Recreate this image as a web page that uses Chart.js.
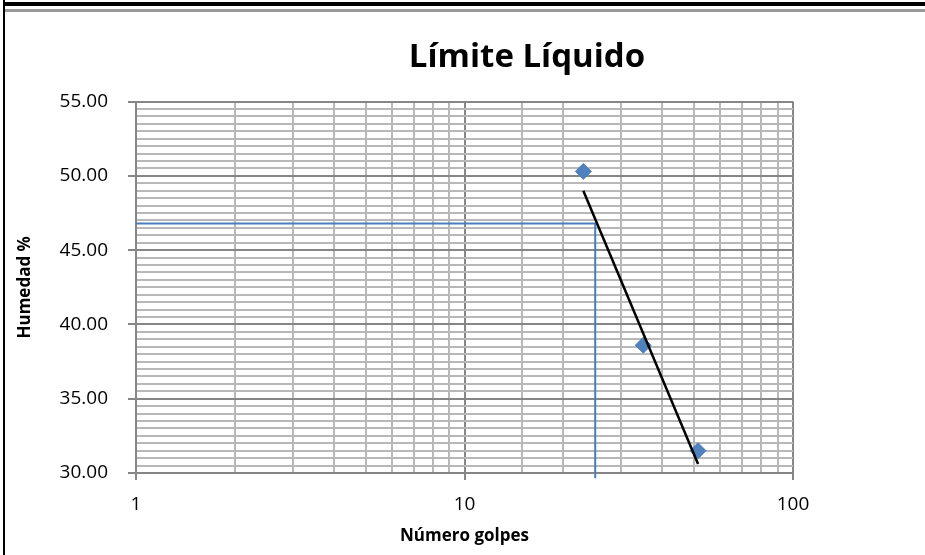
<!DOCTYPE html>
<html>
<head>
<meta charset="utf-8">
<script src="https://cdn.jsdelivr.net/npm/chart.js@4.4.1/dist/chart.umd.min.js"></script>
<style>
  html, body { margin: 0; padding: 0; background: #fff; overflow: hidden; width: 925px; height: 555px; }
  #wrap { position: relative; width: 925px; height: 555px; overflow: hidden; }
  canvas { position: absolute; left: 0; top: 0; }
  .frame { position: absolute; z-index: 2; }
</style>
</head>
<body>
<div id="wrap">
  <canvas id="c" width="1054" height="555"></canvas>
  <div class="frame" style="left:3px; top:0; width:2px; height:555px; background:#000;"></div>
  <div class="frame" style="left:5px; top:2px; right:0; height:4px; background:#000;"></div>
  <div class="frame" style="left:5px; top:9px; right:0; height:3px; background:#999;"></div>
</div>
<script>
// ---- data ----
const golpes   = [23, 35, 51.4];          // Número de golpes
const humedad  = [50.3, 38.6, 31.5];      // Humedad %
const trendGolpes  = [23, 51.4];          // trend line ends
const trendHumedad = [49.0, 30.6];
const guiaGolpes  = [1, 25, 25];          // guide: 25 golpes -> LL
const guiaHumedad = [46.8, 46.8, 29.65];
const xTickLabels = [1, 10, 100];
const yMajorTicks = [30, 35, 40, 45, 50, 55];

const toPts = (xs, ys) => xs.map((x, i) => ({ x: x, y: ys[i] }));

const MAJOR = '#868686';
const MINOR = '#b8b8b8';
const FONT = 'Open Sans';

new Chart(document.getElementById('c'), {
  type: 'scatter',
  data: {
    datasets: [
      {
        label: 'Tendencia',
        data: toPts(trendGolpes, trendHumedad),
        showLine: true,
        borderColor: '#000',
        borderWidth: 2.5,
        pointRadius: 0,
        order: 0
      },
      {
        label: 'Humedad',
        data: toPts(golpes, humedad),
        showLine: false,
        pointStyle: 'rectRot',
        pointRadius: 8,
        pointBackgroundColor: '#4F81BD',
        pointBorderColor: '#4F81BD',
        pointBorderWidth: 1,
        order: 1
      },
      {
        label: 'Guía',
        data: toPts(guiaGolpes, guiaHumedad),
        showLine: true,
        borderColor: '#4A7EBB',
        borderWidth: 2,
        pointRadius: 0,
        clip: false,
        order: 2
      }
    ]
  },
  options: {
    responsive: false,
    animation: false,
    devicePixelRatio: 1,
    layout: { padding: 0 },
    plugins: {
      legend: { display: false },
      tooltip: { enabled: false },
      title: {
        display: true,
        text: 'Límite Líquido',
        color: '#000',
        font: { family: FONT, size: 33, weight: 'bold' },
        padding: { top: 38, bottom: 24 }
      }
    },
    scales: {
      x: {
        type: 'logarithmic',
        min: 1,
        max: 100,
        afterFit: (s) => { s.height = 82; },
        border: { color: MAJOR, width: 2 },
        grid: {
          lineWidth: 2,
          color: (ctx) => (ctx.tick && xTickLabels.includes(ctx.tick.value)) ? MAJOR : MINOR,
          tickColor: (ctx) => (ctx.tick && xTickLabels.includes(ctx.tick.value)) ? MAJOR : 'rgba(0,0,0,0)',
          tickLength: 7
        },
        ticks: {
          autoSkip: false,
          maxRotation: 0,
          padding: 13,
          color: '#000',
          font: { family: FONT, size: 19 },
          callback: (v) => xTickLabels.includes(v) ? String(v) : ''
        },
        title: {
          display: true,
          text: 'Número golpes',
          color: '#000',
          font: { family: FONT, size: 17, weight: 'bold' },
          padding: { top: 0, bottom: 9 }
        }
      },
      y: {
        type: 'linear',
        min: 30,
        max: 55,
        afterFit: (s) => { s.width = 136; },
        border: { color: MAJOR, width: 2 },
        grid: {
          lineWidth: 2,
          color: (ctx) => (ctx.tick && yMajorTicks.includes(ctx.tick.value)) ? MAJOR : MINOR,
          tickColor: (ctx) => (ctx.tick && yMajorTicks.includes(ctx.tick.value)) ? MAJOR : 'rgba(0,0,0,0)',
          tickLength: 8
        },
        ticks: {
          stepSize: 0.5,
          autoSkip: false,
          padding: 20,
          color: '#000',
          font: { family: FONT, size: 19 },
          callback: (v) => yMajorTicks.includes(v) ? Number(v).toFixed(2) : ''
        },
        title: {
          display: true,
          text: 'Humedad %',
          color: '#000',
          font: { family: FONT, size: 17, weight: 'bold' },
          padding: { top: 15, bottom: 0 }
        }
      },
      spacer: {
        type: 'linear',
        position: 'right',
        display: true,
        afterFit: (s) => { s.width = 261; },
        border: { display: false },
        grid: { display: false, drawTicks: false },
        ticks: { display: false }
      }
    }
  }
});
</script>
</body>
</html>
